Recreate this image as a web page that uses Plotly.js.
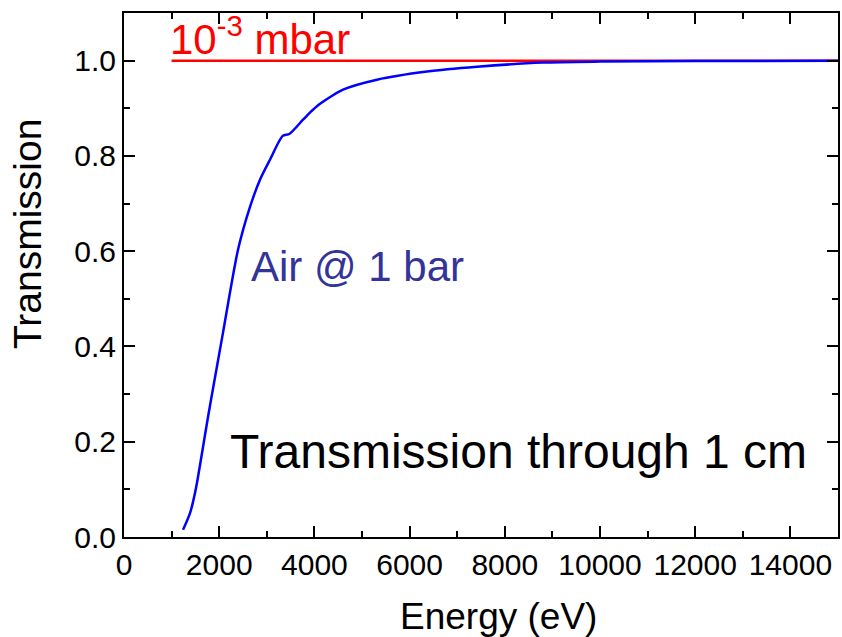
<!DOCTYPE html>
<html>
<head>
<meta charset="utf-8">
<script src="https://cdn.plot.ly/plotly-3.0.1.min.js"></script>
<style>html,body{margin:0;padding:0;background:#fff;}#chart{width:842px;height:637px;}</style>
</head>
<body>
<div id="chart"></div>
<script>
// Air @ 1 bar transmission through 1 cm
const airEnergy = [1240, 1387, 1513, 1660, 1765, 1828, 2080, 2395, 2647, 2857, 3067, 3334, 3473, 3761, 3908, 4097, 4601, 5315, 6366, 7416, 8800, 10000, 12000, 15000];
const airTrans  = [0.015, 0.05, 0.103, 0.189, 0.252, 0.288, 0.429, 0.603, 0.693, 0.75, 0.792, 0.842, 0.846, 0.876, 0.891, 0.908, 0.939, 0.960, 0.977, 0.987, 0.996, 0.998, 0.999, 1.0];
// 10^-3 mbar transmission
const vacEnergy = [1000, 15000];
const vacTrans  = [1.0, 1.0];

const xTickVals = [0, 2000, 4000, 6000, 8000, 10000, 12000, 14000];
const yTickVals = [0.0, 0.2, 0.4, 0.6, 0.8, 1.0];

const FONT = 'Liberation Sans, Arial, sans-serif';

const traces = [
  {x: vacEnergy, y: vacTrans, mode: 'lines', line: {color: '#ff0000', width: 2.5}, showlegend: false, hoverinfo: 'skip'},
  {x: airEnergy, y: airTrans, mode: 'lines', line: {color: '#0000ff', width: 2.5, shape: 'spline', smoothing: 0.7}, showlegend: false, hoverinfo: 'skip'}
];

const axisCommon = {
  showline: true, linecolor: '#000', linewidth: 2, mirror: 'allticks',
  ticks: 'inside', ticklen: 11, tickwidth: 2, tickcolor: '#000',
  showgrid: false, zeroline: false,
  tickfont: {family: FONT, size: 30, color: '#000'}
};

const layout = {
  width: 842, height: 637,
  margin: {l: 124, r: 4, t: 13, b: 100},
  paper_bgcolor: '#fff', plot_bgcolor: '#fff',
  font: {family: FONT, color: '#000'},
  xaxis: Object.assign({}, axisCommon, {
    range: [0, 15000], tickvals: xTickVals, ticktext: xTickVals.map(String),
    minor: {dtick: 1000, tick0: 0, ticks: 'inside', ticklen: 6, tickwidth: 2, tickcolor: '#000', showgrid: false}
  }),
  yaxis: Object.assign({}, axisCommon, {
    range: [0, 1.1], tickvals: yTickVals, ticktext: yTickVals.map(v => v.toFixed(1)),
    minor: {dtick: 0.1, tick0: 0, ticks: 'inside', ticklen: 6, tickwidth: 2, tickcolor: '#000', showgrid: false}
  }),
  annotations: [
    {xref: 'x', yref: 'y', x: 1000, y: 1.0, xanchor: 'left', yanchor: 'bottom', xshift: -4, yshift: -4,
     text: '10<sup>-3</sup> mbar', showarrow: false, font: {family: FONT, size: 42, color: '#ff0000'}},
    {xref: 'x', yref: 'y', x: 2690, y: 0.567, xanchor: 'left', yanchor: 'middle', xshift: -3,
     text: 'Air @ 1 bar', showarrow: false, font: {family: FONT, size: 42, color: '#333399'}},
    {xref: 'x', yref: 'y', x: 2269, y: 0.18, xanchor: 'left', yanchor: 'middle', xshift: -4,
     text: 'Transmission through 1 cm', showarrow: false, font: {family: FONT, size: 48, color: '#000'}},
    {xref: 'paper', yref: 'paper', x: -0.136, y: 0.578, xanchor: 'center', yanchor: 'middle', textangle: -90,
     text: 'Transmission', showarrow: false, font: {family: FONT, size: 39, color: '#000'}},
    {xref: 'paper', yref: 'paper', x: 0.525, y: -0.151, xanchor: 'center', yanchor: 'middle',
     text: 'Energy (eV)', showarrow: false, font: {family: FONT, size: 37, color: '#000'}}
  ]
};

Plotly.newPlot('chart', traces, layout, {staticPlot: true, displayModeBar: false});
</script>
</body>
</html>
